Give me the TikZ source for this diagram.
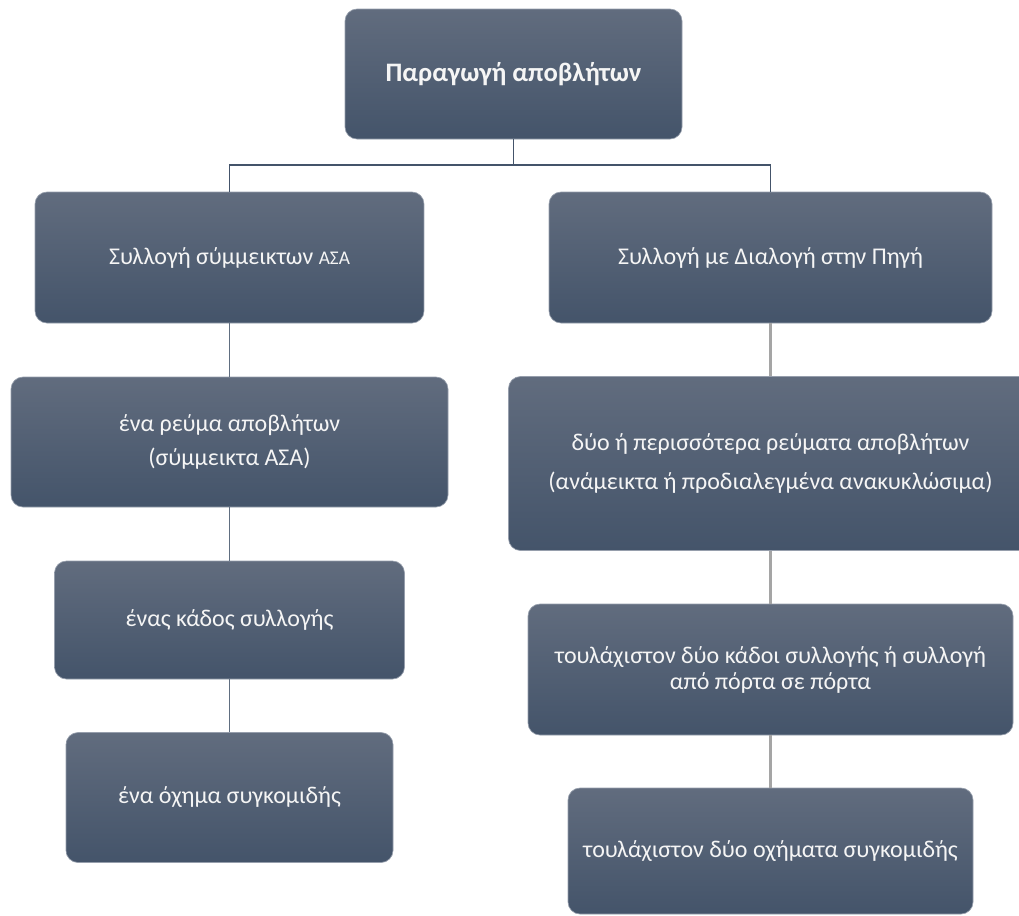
\documentclass[tikz,border=0pt]{standalone}
\usepackage{fontspec}
\setmainfont{Carlito}
\definecolor{boxtop}{RGB}{97,108,126}
\definecolor{boxbot}{RGB}{68,84,106}
\definecolor{boxedge}{RGB}{150,158,172}
\definecolor{txt}{RGB}{245,245,245}
\definecolor{darkline}{RGB}{68,84,106}
\definecolor{grayline}{RGB}{165,165,165}
\def\px{0.75pt}
\begin{document}
\begin{tikzpicture}[x=0.75pt,y=-0.75pt,
  box/.style={draw=boxedge, line width=0.5pt, rounded corners=9pt,
    top color=boxtop, bottom color=boxbot, text=txt, align=center,
    inner sep=0pt, font=\fontsize{18}{19.5}\selectfont},
  topline/.style={draw=darkline, line width=1.1pt},
  leftline/.style={draw=darkline!85!white, line width=0.8pt},
  rightline/.style={draw=grayline, line width=2.2pt}]
\useasboundingbox (0,0) rectangle (1019,915);
\clip (0,0) rectangle (1019,915);
% boxes
\node[box, minimum width=337*\px, minimum height=130*\px, font=\fontsize{20}{24}\selectfont\bfseries] (top) at (513.5,74) {Παραγωγή αποβλήτων};
\node[box, minimum width=389*\px, minimum height=131*\px] (L1) at (229.5,257.5) {Συλλογή σύμμεικτων {\fontsize{14.5}{17}\selectfont ΑΣΑ}};
\node[box, minimum width=443*\px, minimum height=131*\px] (R1) at (770.5,257.5) {Συλλογή με Διαλογή στην Πηγή};
\node[box, minimum width=437*\px, minimum height=130*\px] (L2) at (229.5,442) {ένα ρεύμα αποβλήτων\\[6pt](σύμμεικτα ΑΣΑ)};
\node[box, minimum width=524*\px, minimum height=174*\px] (R2) at (770.5,463.5) {δύο ή περισσότερα ρεύματα αποβλήτων\\[10pt](ανάμεικτα ή προδιαλεγμένα ανακυκλώσιμα)};
\node[box, minimum width=350*\px, minimum height=118*\px] (L3) at (229.5,620) {ένας κάδος συλλογής};
\node[box, minimum width=485*\px, minimum height=131*\px] (R3) at (770.5,669.5) {τουλάχιστον δύο κάδοι συλλογής ή συλλογή\\από πόρτα σε πόρτα};
\node[box, minimum width=327*\px, minimum height=130*\px] (L4) at (229.5,797.5) {ένα όχημα συγκομιδής};
\node[box, minimum width=405*\px, minimum height=126*\px] (R4) at (770.5,851) {τουλάχιστον δύο οχήματα συγκομιδής};
% connectors
\coordinate (j) at (513.5,165);
\draw[topline] (top.south) -- (j);
\draw[topline] (L1.north) |- (j) -| (R1.north);
\draw[leftline] (L1.south) -- (L2.north);
\draw[leftline] (L2.south) -- (L3.north);
\draw[leftline] (L3.south) -- (L4.north);
\draw[rightline] (R1.south) -- (R2.north);
\draw[rightline] (R2.south) -- (R3.north);
\draw[rightline] (R3.south) -- (R4.north);
\end{tikzpicture}
\end{document}
